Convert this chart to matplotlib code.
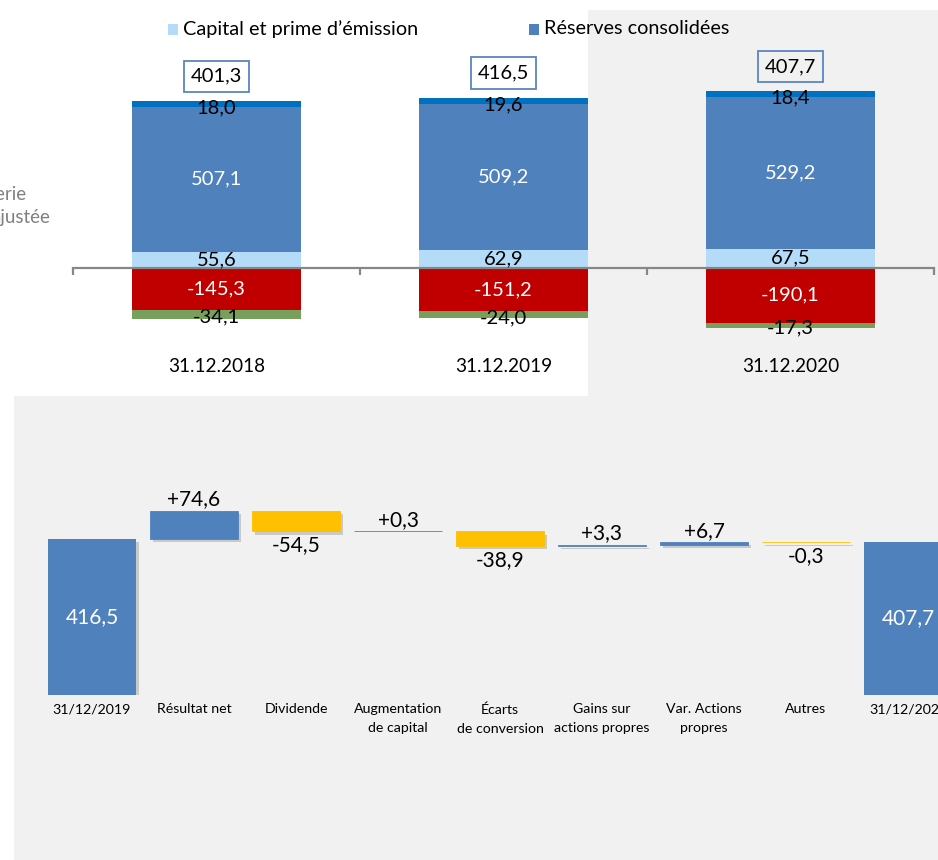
import matplotlib
matplotlib.use("Agg")
import matplotlib.pyplot as plt
import matplotlib.patheffects as pe
from matplotlib.patches import Rectangle
import numpy as np

plt.rcParams["font.family"] = ["Lato", "DejaVu Sans"]

W, H = 938, 860

# --- top panel: equity composition at year end ---
YEARS = ["31.12.2018", "31.12.2019", "31.12.2020"]
CAPITAL = [55.6, 62.9, 67.5]
RESERVES = [507.1, 509.2, 529.2]
RESULT_BAND = [18.0, 19.6, 18.4]
HEDGE = [-145.3, -151.2, -190.1]
OTHER_NEG = [-34.1, -24.0, -17.3]
TOTALS = [401.3, 416.5, 407.7]

# --- bottom panel: bridge 2019 -> 2020 ---
STEPS = ["31/12/2019", "Résultat net", "Dividende", "Augmentation\nde capital",
         "Écarts\nde conversion", "Gains sur\nactions propres",
         "Var. Actions\npropres", "Autres", "31/12/2020"]
OPENING = 416.5
MOVES = [74.6, -54.5, 0.3, -38.9, 3.3, 6.7, -0.3]
CLOSING = 407.7

C_CAP = "#b4dbf7"
C_RES = "#4f81bd"
C_BAND = "#0070c0"
C_RED = "#c00000"
C_GREEN = "#77a05c"
C_UP = "#4f81bd"
C_DOWN = "#ffc000"
BG = "#f1f1f1"


def fmt(v, sign=False):
    s = f"{v:+.1f}" if sign else f"{v:.1f}"
    return s.replace(".", ",")


def px_axes(fig, x0, y0, x1, y1):
    """Axes placed by pixel box (top-left origin)."""
    return fig.add_axes([x0 / W, 1 - y1 / H, (x1 - x0) / W, (y1 - y0) / H])


fig = plt.figure(figsize=(W / 100, H / 100), dpi=100)
fig.patch.set_facecolor("white")
fig.add_artist(Rectangle((14 / W, 0), 1, 1 - 10 / H, transform=fig.transFigure,
                         facecolor=BG, edgecolor="none", zorder=-3))
fig.add_artist(Rectangle((0, 1 - 396 / H), 588 / W, 396 / H, transform=fig.transFigure,
                         facecolor="white", edgecolor="none", zorder=-2))

# ---------------- top chart ----------------
scale_t = 0.287  # px per unit
zero_t = 268
ax0_top, ax0_bot = 40, 400
ax = px_axes(fig, 73, ax0_top, 934, ax0_bot)
ax.set_xlim(-0.5, 2.5)
ax.set_ylim(-(ax0_bot - zero_t) / scale_t, (zero_t - ax0_top) / scale_t)
ax.patch.set_visible(False)
for sp in ["top", "left", "right"]:
    ax.spines[sp].set_visible(False)
ax.spines["bottom"].set_position(("data", 0))
ax.spines["bottom"].set_color("#878787")
ax.spines["bottom"].set_linewidth(1.6)
ax.set_xticks([-0.5, 0.5, 1.5, 2.5])
ax.set_xticklabels([])
ax.tick_params(axis="x", direction="out", length=5, width=1.6, color="#878787")
ax.set_yticks([])

x = np.arange(len(YEARS))
bw = 0.589
cap = np.array(CAPITAL)
res = np.array(RESERVES)
band = np.array(RESULT_BAND)
red = np.array(HEDGE)
grn = np.array(OTHER_NEG)

ax.bar(x, cap, bw, color=C_CAP, zorder=2)
ax.bar(x, res, bw, bottom=cap, color=C_RES, zorder=2)
ax.bar(x, band, bw, bottom=cap + res, color=C_BAND, zorder=2)
ax.bar(x, red, bw, color=C_RED, zorder=2)
ax.bar(x, grn, bw, bottom=red, color=C_GREEN, zorder=2)

fs = 14.5
for i in x:
    ax.text(i, cap[i] / 2, fmt(cap[i]), ha="center", va="center", fontsize=fs, color="black", zorder=3)
    ax.text(i, cap[i] + res[i] / 2, fmt(res[i]), ha="center", va="center", fontsize=fs, color="white", zorder=3)
    ax.annotate(fmt(band[i]), (i, cap[i] + res[i] + band[i] / 2), xytext=(0, -3),
                textcoords="offset points", ha="center", va="center", fontsize=fs, zorder=3)
    ax.text(i, red[i] / 2, fmt(red[i]), ha="center", va="center", fontsize=fs, color="white", zorder=3)
    ax.annotate(fmt(grn[i]), (i, red[i] + grn[i] / 2), xytext=(0, -2),
                textcoords="offset points", ha="center", va="center", fontsize=fs, zorder=3)
    top = cap[i] + res[i] + band[i]
    ax.annotate(fmt(TOTALS[i]), (i, top), xytext=(0, 18), textcoords="offset points",
                ha="center", va="center", fontsize=fs, zorder=3,
                bbox=dict(boxstyle="square,pad=0.36", facecolor="none",
                          edgecolor="#5b85c0", linewidth=1.3))
    fig.text((217 + 287 * i) / W, 1 - 367 / H, YEARS[i], ha="center", va="center", fontsize=13.7)

# legend
for sx, label, col in [(168, "Capital et prime d\u2019émission", C_CAP),
                       (529, "Réserves consolidées", C_RES)]:
    fig.add_artist(Rectangle((sx / W, 1 - 35 / H), 10 / W, 11 / H,
                             transform=fig.transFigure, facecolor=col, edgecolor="none"))
    fig.text((sx + 15) / W, 1 - 29 / H, label, ha="left", va="center", fontsize=14.3)

# leftover series names at the left edge
fig.text(27 / W, 1 - 194 / H, "trésorerie", ha="right", va="center", fontsize=13.5, color="#808080")
fig.text(50 / W, 1 - 217 / H, "ajustée", ha="right", va="center", fontsize=13.5, color="#808080")

# ---------------- bottom waterfall ----------------
scale_b = 0.375
zero_b = 695
bx0, by0 = 41, 440
bx = px_axes(fig, bx0, by0, W, zero_b)
step = 102
bx.set_xlim(-0.5, (W - 92) / step)
bx.set_ylim(0, (zero_b - by0) / scale_b)
bx.axis("off")

shadow = [pe.SimplePatchShadow(offset=(2, -2.5), shadow_rgbFace="#808080", alpha=0.35), pe.Normal()]
wbw = 0.863

levels = OPENING + np.cumsum([0] + MOVES)
bars = bx.bar([0, len(STEPS) - 1], [OPENING, CLOSING], wbw, color=C_UP)
for b in bars:
    b.set_path_effects(shadow)
bx.text(0, OPENING / 2, fmt(OPENING), ha="center", va="center", fontsize=15, color="white")
bx.text(len(STEPS) - 1, CLOSING / 2, fmt(CLOSING), ha="center", va="center", fontsize=15, color="white")

for k, mv in enumerate(MOVES):
    i = k + 1
    base = levels[k]
    col = C_UP if mv > 0 else C_DOWN
    b = bx.bar(i, mv, wbw, bottom=base, color=col, edgecolor=col, linewidth=0.6)[0]
    b.set_path_effects(shadow)
    if mv > 0:
        bx.annotate(fmt(mv, sign=True), (i, base + mv), xytext=(0, 1), textcoords="offset points",
                    ha="center", va="bottom", fontsize=15)
    else:
        bx.annotate(fmt(mv, sign=True), (i, base + mv), xytext=(0, -3), textcoords="offset points",
                    ha="center", va="top", fontsize=15)

for i, lab in enumerate(STEPS):
    fig.text((92 + step * i) / W, 1 - 703 / H, lab, ha="center", va="top",
             fontsize=10.2, linespacing=1.75)

fig.savefig("out.png", dpi=100)
